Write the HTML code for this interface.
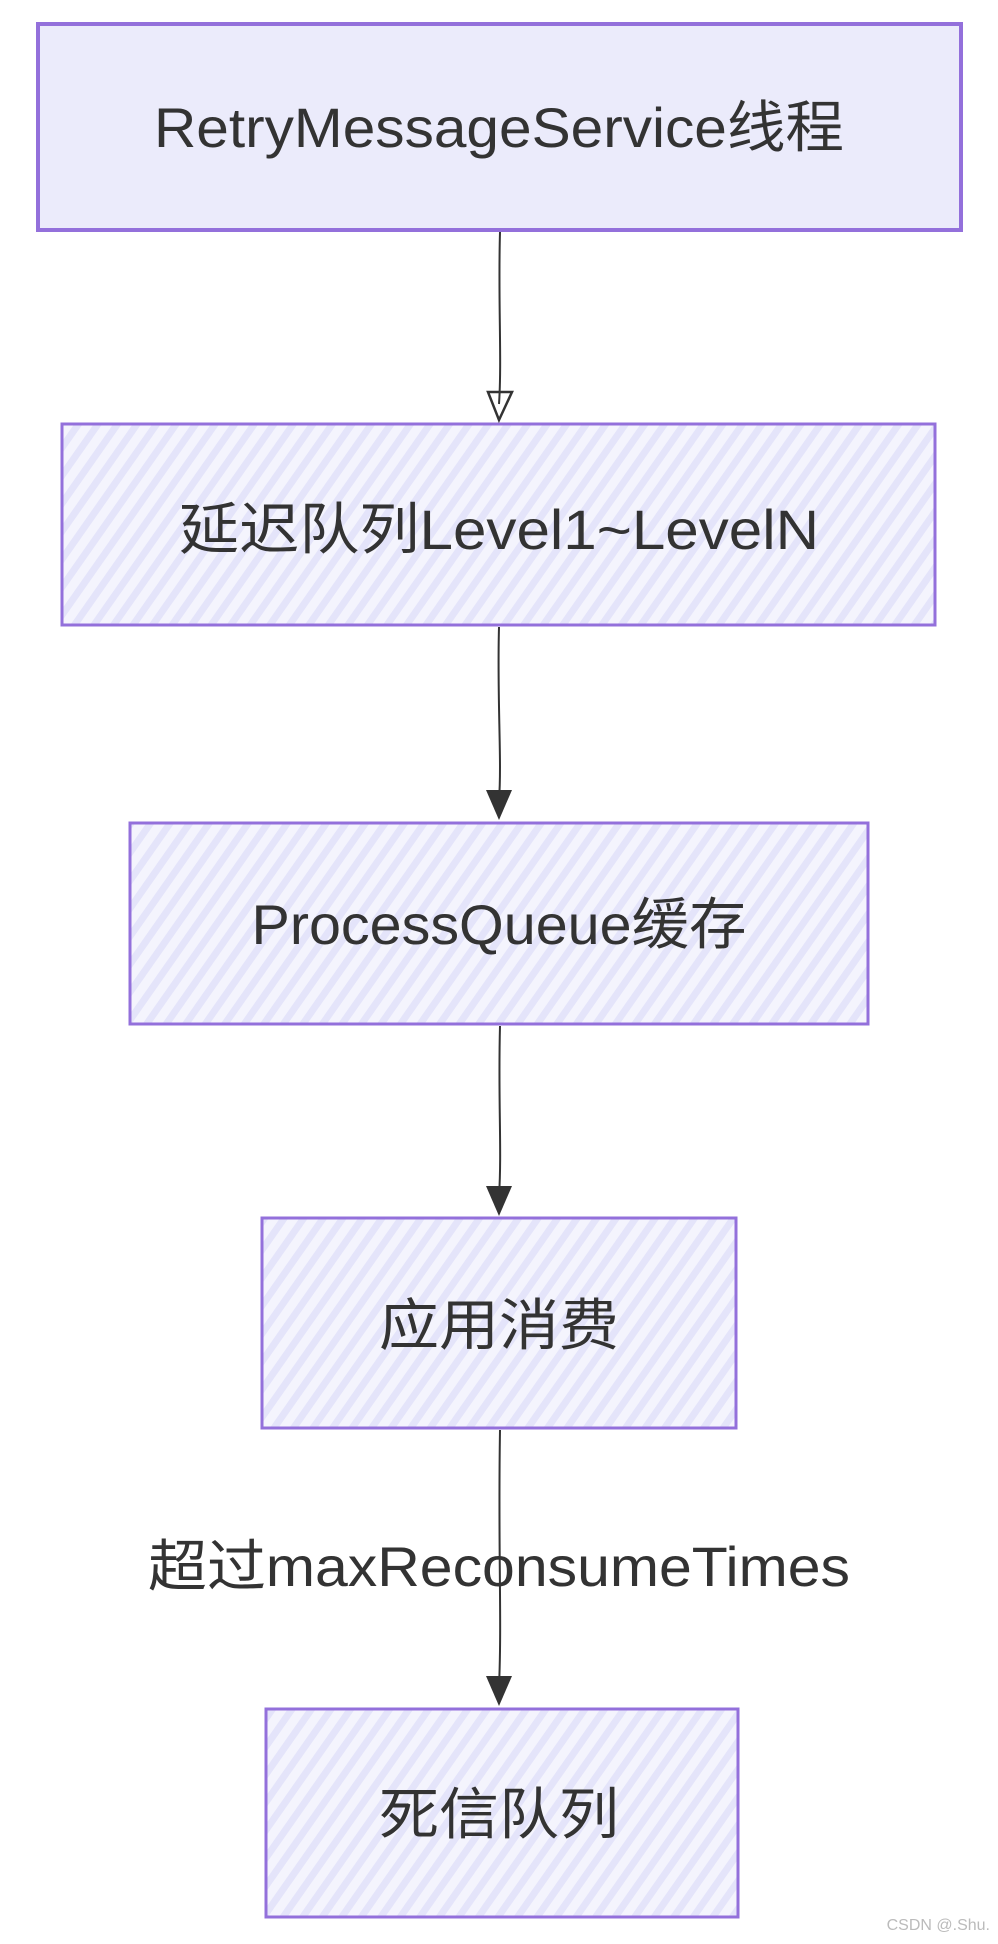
<!DOCTYPE html>
<html><head><meta charset="utf-8"><style>
html,body{margin:0;padding:0;background:#fff}
svg{display:block}
text{font-family:"Liberation Sans","Noto Sans CJK SC",sans-serif;fill:#333;font-size:56px}
</style></head><body>
<svg width="998" height="1944" viewBox="0 0 998 1944" xmlns="http://www.w3.org/2000/svg">
<defs>
<pattern id="h" width="16" height="16" patternUnits="userSpaceOnUse" patternTransform="rotate(35)">
<rect width="16" height="16" fill="#f4f4fd"/>
<rect width="7" height="16" fill="#e4e4fa"/>
</pattern>
<marker id="a" markerWidth="12" markerHeight="12" refX="6" refY="10" orient="auto" markerUnits="userSpaceOnUse"></marker>
</defs>
<!-- Box 1 -->
<rect x="38" y="24" width="923" height="206" fill="#ebebfb" stroke="#9370db" stroke-width="4"/>
<text x="499" y="147" text-anchor="middle" textLength="690" lengthAdjust="spacingAndGlyphs">RetryMessageService线程</text>
<!-- Box 2 -->
<rect x="62" y="424" width="873" height="201" fill="url(#h)" stroke="#9370db" stroke-width="3"/>
<text x="499" y="549" text-anchor="middle" textLength="640" lengthAdjust="spacingAndGlyphs">延迟队列Level1~LevelN</text>
<!-- Box 3 -->
<rect x="130" y="823" width="738" height="201" fill="url(#h)" stroke="#9370db" stroke-width="3"/>
<text x="499" y="944" text-anchor="middle" textLength="495" lengthAdjust="spacingAndGlyphs">ProcessQueue缓存</text>
<!-- Box 4 -->
<rect x="262" y="1218" width="474" height="210" fill="url(#h)" stroke="#9370db" stroke-width="3"/>
<text x="499" y="1345" text-anchor="middle" textLength="240" lengthAdjust="spacingAndGlyphs">应用消费</text>
<!-- Box 5 -->
<rect x="266" y="1709" width="472" height="208" fill="url(#h)" stroke="#9370db" stroke-width="3"/>
<text x="499" y="1834" text-anchor="middle" textLength="240" lengthAdjust="spacingAndGlyphs">死信队列</text>
<!-- connectors -->
<g stroke="#333" stroke-width="2" fill="none">
<path d="M500 232 C498 300 502 360 499 404"/>
<path d="M499 627 C497 700 502 760 499 800"/>
<path d="M500 1026 C498 1100 502 1150 499 1196"/>
<path d="M500 1430 C498 1550 502 1620 499 1686"/>
</g>
<polygon points="488,392 512,392 499,420" fill="none" stroke="#333" stroke-width="2.5"/>
<polygon points="486,790 512,790 499,820" fill="#333"/>
<polygon points="486,1186 512,1186 499,1216" fill="#333"/>
<polygon points="486,1676 512,1676 499,1706" fill="#333"/>
<text x="499" y="1586" text-anchor="middle" textLength="702" lengthAdjust="spacingAndGlyphs">超过maxReconsumeTimes</text>
<text x="990" y="1930" text-anchor="end" style="font-size:16px;fill:#bbb">CSDN @.Shu.</text>
</svg>
</body></html>
